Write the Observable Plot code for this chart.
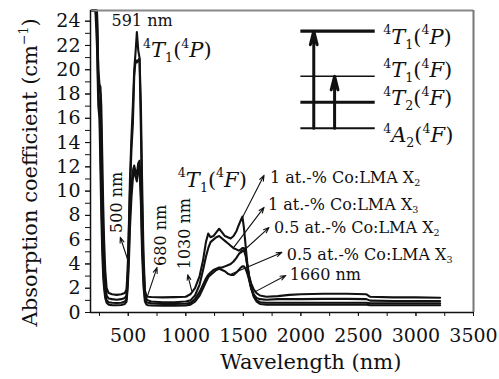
<!DOCTYPE html>
<html><head><meta charset="utf-8">
<script src="https://cdn.jsdelivr.net/npm/d3@7"></script>
<script src="https://cdn.jsdelivr.net/npm/@observablehq/plot@0.6"></script>
<style>body{margin:0;background:#fff}</style>
</head><body><div id="chart"></div>
<script>
// Wavelength grid (nm) shared by the four spectra
const wl = [185,200,215,228,240,250,258,266,274,282,290,300,312,330,360,400,440,470,485,495,505,515,528,540,552,564,575,587,598,610,620,632,645,658,672,700,800,900,1000,1040,1080,1120,1150,1175,1195,1215,1240,1265,1290,1315,1340,1365,1390,1415,1440,1460,1478,1492,1505,1520,1535,1550,1568,1590,1615,1645,1700,1800,1900,2000,2200,2400,2570,2600,2800,3000,3210];
// Absorption coefficient (cm^-1); values above the frame top run off the chart
const s1x2 = [30,30,30,28,20,18.8,18.6,17,13,9,6,3.5,2.0,1.6,1.5,1.45,1.5,1.6,1.9,3.5,7,11,14.5,17,20,21.5,23.1,21.6,21,17,11,5,1.8,1.4,1.3,1.28,1.25,1.27,1.3,1.5,2.0,3.0,4.3,5.8,6.5,6.2,6.3,6.6,6.9,6.6,6.3,6.2,6.1,6.3,6.7,7.2,7.6,7.9,7.0,5.5,4.0,3.0,2.4,1.9,1.6,1.4,1.3,1.35,1.45,1.5,1.55,1.55,1.5,1.3,1.25,1.25,1.22];
const s1x3 = [30,30,30,27,19.5,18.2,18,15,10,6.5,4,2.4,1.4,1.15,1.1,1.05,1.1,1.2,1.4,3,6.5,10,13.5,15.5,19.5,20.8,20.6,20.8,20.9,15,9,4,1.5,1.1,1.0,0.9,0.85,0.85,0.9,1.0,1.4,2.3,3.5,4.6,5.3,5.8,6.0,6.2,6.3,6.1,5.9,5.7,5.5,5.3,5.2,5.1,5.2,5.3,5.3,4.8,3.8,2.8,2.0,1.5,1.2,1.1,1.05,1.1,1.1,1.1,1.12,1.12,1.1,0.98,0.95,0.95,0.95];
const s05x2 = [30,30,29,24,18,17,14,10,6.5,4,2.5,1.5,1.0,0.85,0.8,0.78,0.8,0.9,1.1,2.5,5,8,10.5,11.7,12.1,11.6,11.4,12.3,12.5,10,6,3,1.2,0.85,0.8,0.75,0.7,0.7,0.72,0.8,1.1,1.7,2.3,2.8,3.1,3.3,3.5,3.6,3.7,3.7,3.8,3.9,4.0,4.2,4.5,4.8,5.0,5.1,5.1,4.7,3.9,3.0,2.1,1.4,1.0,0.85,0.8,0.8,0.8,0.8,0.8,0.8,0.8,0.75,0.75,0.75,0.75];
const s05x3 = [30,30,28,22,17,16,12,8,5,3,2,1.2,0.8,0.65,0.6,0.6,0.62,0.7,0.9,2,4,7,9.5,11,11.7,11.2,10.8,11.7,12,9,5,2.2,0.9,0.65,0.6,0.58,0.55,0.55,0.58,0.65,0.9,1.4,2.0,2.5,2.9,3.1,3.3,3.5,3.6,3.5,3.4,3.2,3.1,3.1,3.3,3.5,3.7,3.8,3.8,3.6,3.2,2.7,2.0,1.3,0.9,0.7,0.65,0.65,0.65,0.65,0.65,0.65,0.65,0.6,0.6,0.6,0.6];
const seriesNames = ["1 at.-% Co:LMA X[2]","1 at.-% Co:LMA X[3]","0.5 at.-% Co:LMA X[2]","0.5 at.-% Co:LMA X[3]"];
const seriesValues = [s1x2, s1x3, s05x2, s05x3];

// Axes
const xDomain = [172, 3500];
const yDomain = [0, 24.88];
const xTicksMinor = [250,500,750,1000,1250,1500,1750,2000,2250,2500,2750,3000,3250,3500];
const xTicksMajor = [500,1000,1500,2000,2500,3000,3500];
const yTicksMinor = [0,1,2,3,4,5,6,7,8,9,10,11,12,13,14,15,16,17,18,19,20,21,22,23,24];
const yTicksMajor = [0,2,4,6,8,10,12,14,16,18,20,22,24];

// Annotations (data coordinates)
const seriesLabels = [
  {t: seriesNames[0], x: 1731, y: 11.13, ax: 1480, ay: 7.6, bx: 1680, by: 11.3},
  {t: seriesNames[1], x: 1714, y: 8.9, ax: 1420, ay: 5.4, bx: 1680, by: 8.66},
  {t: seriesNames[2], x: 1766, y: 7.0, ax: 1480, ay: 4.9, bx: 1723, by: 7.0},
  {t: seriesNames[3], x: 1878, y: 4.78, ax: 1400, ay: 3.2, bx: 1835, by: 4.95},
  {t: "1660 nm", x: 1903, y: 3.13, ax: 1600, ay: 1.7, bx: 1869, by: 3.05}
];
const vertLabels = [
  {t: "500 nm", x: 405, y: 9.07, ax: 504, ay: 4.1, bx: 431, by: 6.2},
  {t: "680 nm", x: 784, y: 6.35, ax: 663, ay: 1.24, bx: 750, by: 3.7},
  {t: "1030 nm", x: 991, y: 6.5, ax: 1051, ay: 1.8, bx: 1017, by: 3.1}
];
const stateLabels = [
  {t: "{4}*T*[1]({4}*P*)", x: 629, y: 21.6},
  {t: "{4}*T*[1]({4}*F*)", x: 931, y: 10.9}
];
const levels = [
  {y: 23.18, w: 3.2, t: "{4}*T*[1]({4}*P*)", ty: 22.68},
  {y: 19.46, w: 1.6, t: "{4}*T*[1]({4}*F*)", ty: 19.96},
  {y: 17.32, w: 3.2, t: "{4}*T*[2]({4}*F*)", ty: 17.65},
  {y: 15.18, w: 2.0, t: "{4}*A*[2]({4}*F*)", ty: 14.6}
];
const levelX = [2000, 2646];
const levelLabelX = 2715;
const transitions = [{x: 2112, top: 23.18}, {x: 2293, top: 19.46}];

const rows = seriesNames.flatMap((name, i) => wl.map((w, j) => ({series: name, wl: w, v: seriesValues[i][j]})));

const plot = Plot.plot({
  width: 499, height: 379,
  marginLeft: 90, marginRight: 26, marginTop: 10, marginBottom: 67,
  style: {fontFamily: "'DejaVu Serif', serif", fontSize: "19px", color: "#111", background: "#fff"},
  x: {domain: xDomain},
  y: {domain: yDomain, clamp: true},
  marks: [
    // off-scale readings are held at the frame top (the curves leave the chart there)
    Plot.line(rows, {x: "wl", y: d => Math.min(d.v, yDomain[1]), z: "series", stroke: "#111", strokeWidth: 2.1, strokeLinejoin: "round"}),
    Plot.ruleY([yDomain[1]], {stroke: "#888", strokeWidth: 2}),
    Plot.ruleX([xDomain[1]], {stroke: "#777", strokeWidth: 2}),
    Plot.ruleX([xDomain[0]], {stroke: "#111", strokeWidth: 1.5}),
    Plot.ruleY([0], {stroke: "#111", strokeWidth: 1.5}),
    Plot.axisX({ticks: xTicksMinor, tickSize: 4, tickFormat: () => "", label: null}),
    Plot.axisX({ticks: xTicksMajor, tickSize: 4, tickPadding: 12, tickFormat: d => String(d), label: null, fontSize: 19}),
    Plot.axisY({ticks: yTicksMinor, tickSize: 5, tickFormat: () => "", label: null}),
    Plot.axisY({ticks: yTicksMajor, tickSize: 5, tickPadding: 5, tickFormat: d => String(d), label: null, fontSize: 19}),
    Plot.text(["Wavelength (nm)"], {x: 2086, frameAnchor: "bottom", dy: 56, fontSize: 21}),
    Plot.text(["Absorption coefficient (cm{−1})"], {y: 11.55, frameAnchor: "left", dx: -60, rotate: -90, textAnchor: "middle", fontSize: 21}),
    Plot.text(["591 nm"], {x: 620, y: 24.0, fontSize: 16}),
    Plot.text(stateLabels, {x: "x", y: "y", text: "t", textAnchor: "start", fontSize: 21}),
    // energy level inset
    Plot.ruleY(levels, {y: "y", x1: levelX[0], x2: levelX[1], strokeWidth: "w", stroke: "#111"}),
    Plot.text(levels, {x: levelLabelX, y: "ty", text: "t", textAnchor: "start", fontSize: 21}),
    Plot.arrow(transitions, {x: "x", y1: 15.18, y2: "top", stroke: "#111", strokeWidth: 3, headLength: 7, headAngle: 28}),
    // pointer labels
    Plot.arrow(seriesLabels, {x1: "ax", y1: "ay", x2: "bx", y2: "by", stroke: "#111", strokeWidth: 1.1, headLength: 8, headAngle: 40}),
    Plot.text(seriesLabels, {x: "x", y: "y", text: "t", textAnchor: "start", fontSize: 16}),
    Plot.arrow(vertLabels, {x1: "ax", y1: "ay", x2: "bx", y2: "by", stroke: "#111", strokeWidth: 1.1, headLength: 8, headAngle: 40}),
    Plot.text(vertLabels, {x: "x", y: "y", text: "t", rotate: -90, fontSize: 16})
  ]
});
document.getElementById("chart").appendChild(plot);

// Rich text: {sup}, [sub], *italic*
function richify(svg) {
  svg.querySelectorAll("text").forEach(t => {
    if (t.querySelector("tspan")) return;
    const s = t.textContent;
    if (!/[{\[*]/.test(s)) return;
    const base = parseFloat(getComputedStyle(t).fontSize) || 16;
    t.textContent = "";
    const re = /\{([^}]*)\}|\[([^\]]*)\]|\*([^*]*)\*|([^{\[*]+)/g;
    let m, cur = 0;
    while ((m = re.exec(s))) {
      const ts = document.createElementNS("http://www.w3.org/2000/svg", "tspan");
      let target = 0, txt;
      if (m[1] !== undefined) { txt = m[1]; target = -0.45 * base; ts.setAttribute("font-size", (0.6 * base) + "px"); }
      else if (m[2] !== undefined) { txt = m[2]; target = 0.22 * base; ts.setAttribute("font-size", (0.6 * base) + "px"); }
      else if (m[3] !== undefined) { txt = m[3]; ts.setAttribute("font-style", "italic"); }
      else { txt = m[4]; }
      if (target !== cur) ts.setAttribute("dy", (target - cur) + "px");
      cur = target;
      ts.textContent = txt;
      t.appendChild(ts);
    }
  });
}
richify(plot);
</script></body></html>
